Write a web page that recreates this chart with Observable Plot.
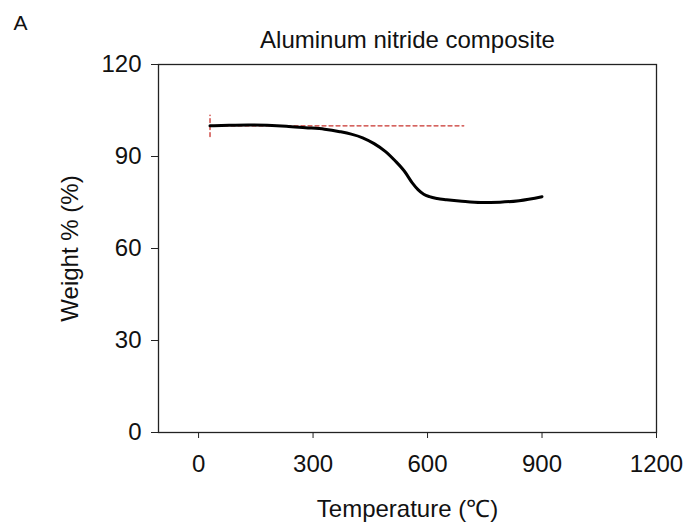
<!DOCTYPE html>
<html>
<head>
<meta charset="utf-8">
<script src="https://cdn.jsdelivr.net/npm/d3@7"></script>
<script src="https://cdn.jsdelivr.net/npm/@observablehq/plot@0.6"></script>
<style>
  body { margin: 0; background: #fff; }
  #chart { width: 691px; height: 527px; }
</style>
</head>
<body>
<div id="chart"></div>
<script>
const temperature = [30, 80, 130, 180, 230, 280, 330, 370, 400, 430, 460, 490, 515, 540, 560, 575, 590, 605, 625, 650, 690, 740, 790, 840, 900];
const weight = [100, 100.2, 100.3, 100.2, 99.9, 99.4, 98.9, 98.1, 97.3, 96.1, 94.2, 91.6, 88.6, 85.1, 81.4, 79.2, 77.7, 76.9, 76.3, 75.9, 75.4, 75.0, 75.1, 75.6, 76.9];
const refLineX = [30, 695];
const refLineY = [100, 100];
const startMarkX = [30, 30];
const startMarkY = [96.5, 103.5];
const xTicks = [0, 300, 600, 900, 1200];
const yTicks = [0, 30, 60, 90, 120];
const panelLabel = "A";
const titleText = "Aluminum nitride composite";
const xLabel = "Temperature (\u2103)";
const yLabel = "Weight % (%)";

const curve = temperature.map((t, i) => ({t, w: weight[i]}));
const refH = refLineX.map((t, i) => ({t, w: refLineY[i]}));
const refV = startMarkX.map((t, i) => ({t, w: startMarkY[i]}));

const chart = Plot.plot({
  width: 691,
  height: 527,
  marginLeft: 158,
  marginRight: 35,
  marginTop: 64,
  marginBottom: 95,
  style: {fontFamily: "'Liberation Sans', Arial, sans-serif", fontSize: "24px", color: "#111", background: "#fff"},
  x: {domain: [-105, 1200], label: null},
  y: {domain: [0, 120], label: null},
  marks: [
    Plot.frame({stroke: "#222", strokeWidth: 1.3}),
    Plot.axisX({ticks: xTicks, tickSize: 6, tickPadding: 16, label: null, fontSize: 24, stroke: "#222", tickFormat: d => String(d)}),
    Plot.axisY({ticks: yTicks, tickSize: 7, tickPadding: 10, label: null, fontSize: 24, stroke: "#222", tickFormat: d => String(d)}),
    Plot.line(refH, {x: "t", y: "w", stroke: "#c8322d", strokeWidth: 1.3, strokeDasharray: "4,3"}),
    Plot.line(refV, {x: "t", y: "w", stroke: "#c8322d", strokeWidth: 1.3, strokeDasharray: "4,3"}),
    Plot.line(curve, {x: "t", y: "w", stroke: "#000", strokeWidth: 3, curve: "monotone-x"}),
    Plot.text([titleText], {frameAnchor: "top", lineAnchor: "middle", dy: -24, fontSize: 24, fill: "#111", text: d => d}),
    Plot.text([xLabel], {frameAnchor: "bottom", lineAnchor: "middle", dy: 77, fontSize: 24, fill: "#111", text: d => d}),
    Plot.text([yLabel], {frameAnchor: "left", textAnchor: "middle", lineAnchor: "middle", dx: -88, rotate: -90, fontSize: 24, fill: "#111", text: d => d}),
    Plot.text([panelLabel], {frameAnchor: "top-left", textAnchor: "start", lineAnchor: "middle", dx: -145, dy: -41, fontSize: 21, fill: "#111", text: d => d})
  ]
});
document.getElementById("chart").appendChild(chart);
</script>
</body>
</html>
